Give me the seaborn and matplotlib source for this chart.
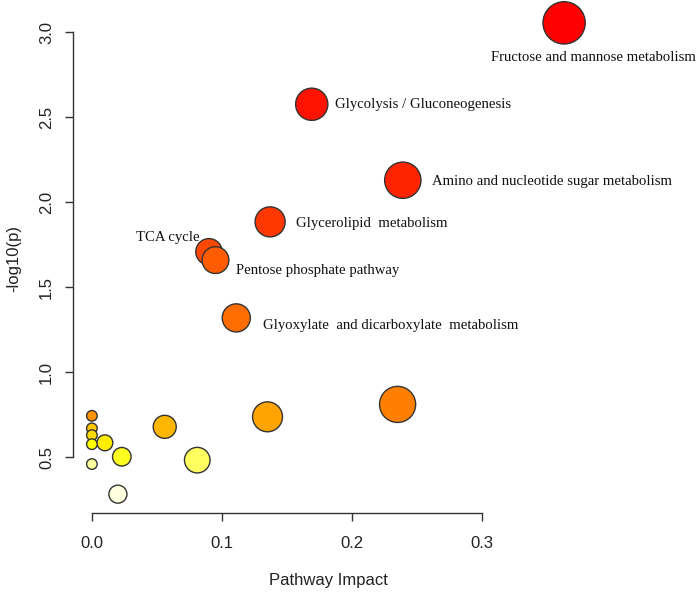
import colorsys
import numpy as np
import pandas as pd
import matplotlib
matplotlib.use("Agg")
import matplotlib.pyplot as plt
import seaborn as sns

# values (ordered by -log10(p), largest first)
impact = [0.363, 0.169, 0.239, 0.137, 0.090, 0.095, 0.111, 0.235, 0.0, 0.135,
          0.056, 0.0, 0.0, 0.010, 0.0, 0.023, 0.081, 0.0, 0.020]
neg_log_p = [3.055, 2.576, 2.129, 1.884, 1.708, 1.659, 1.319, 0.810, 0.743, 0.737,
             0.678, 0.669, 0.629, 0.584, 0.576, 0.502, 0.482, 0.459, 0.282]
labels = ["Fructose and mannose metabolism", "Glycolysis / Gluconeogenesis",
          "Amino and nucleotide sugar metabolism", "Glycerolipid  metabolism",
          "TCA cycle", "Pentose phosphate pathway",
          "Glyoxylate  and dicarboxylate  metabolism"] + [""] * 12

df = pd.DataFrame({"impact": impact, "neg_log_p": neg_log_p, "label": labels})


def heat_colors(n):
    # same scheme as R's heat.colors()
    j = n // 4
    i = n - j
    cols = [colorsys.hsv_to_rgb(h, 1, 1) for h in np.linspace(0, 1 / 6, i)]
    if j > 0:
        cols += [colorsys.hsv_to_rgb(1 / 6, s, 1)
                 for s in np.linspace(1 - 1 / (2 * j), 1 / (2 * j), j)]
    return cols


colors = heat_colors(len(df))
palette = {v: c for v, c in zip(df["neg_log_p"], colors)}
# circle radius (px) grows with sqrt(impact)
sizes = {v: (2 * (5.3 + 26.3 * np.sqrt(v)) * 0.72) ** 2 for v in df["impact"]}

sns.set_style("white")
plt.rcParams["font.family"] = ["Liberation Sans", "DejaVu Sans"]

fig = plt.figure(figsize=(6.99, 5.93), dpi=100)
ax = fig.add_axes([73 / 699, 80 / 593, 510 / 699, 509 / 593])

sns.scatterplot(data=df, x="impact", y="neg_log_p", hue="neg_log_p", palette=palette,
                size="impact", sizes=sizes, edgecolor="#333333", linewidth=1.0,
                legend=False, ax=ax, clip_on=False, zorder=3)

# label offsets in points relative to each circle
offsets = {
    "Fructose and mannose metabolism": (21, -25, "center"),
    "Glycolysis / Gluconeogenesis": (17, 0, "left"),
    "Amino and nucleotide sugar metabolism": (21, -1, "left"),
    "Glycerolipid  metabolism": (19, -1.5, "left"),
    "TCA cycle": (-7, 10.5, "right"),
    "Pentose phosphate pathway": (14.5, -7.7, "left"),
    "Glyoxylate  and dicarboxylate  metabolism": (19.5, -5.3, "left"),
}
for _, row in df[df["label"] != ""].iterrows():
    dx, dy, ha = offsets[row["label"]]
    ax.annotate(row["label"], (row["impact"], row["neg_log_p"]), xytext=(dx, dy),
                textcoords="offset points", ha=ha, va="center",
                family="Liberation Serif", fontsize=10.6, color="#111111",
                annotation_clip=False)

# R-style limits: data range plus 4 %
xr = max(impact) - min(impact)
yr = max(neg_log_p) - min(neg_log_p)
ax.set_xlim(min(impact) - 0.04 * xr, max(impact) + 0.04 * xr)
ax.set_ylim(min(neg_log_p) - 0.04 * yr, max(neg_log_p) + 0.04 * yr)

ax.set_xticks([0.0, 0.1, 0.2, 0.3])
ax.set_yticks([0.5, 1.0, 1.5, 2.0, 2.5, 3.0])
ax.set_xticklabels(["0.0", "0.1", "0.2", "0.3"])
ax.set_yticklabels(["0.5", "1.0", "1.5", "2.0", "2.5", "3.0"], rotation=90, va="center")

for side in ["top", "right"]:
    ax.spines[side].set_visible(False)
ax.spines["left"].set_bounds(0.5, 3.0)
ax.spines["bottom"].set_bounds(0.0, 0.3)
for side in ["left", "bottom"]:
    ax.spines[side].set_color("#333333")
    ax.spines[side].set_linewidth(1.0)

ax.tick_params(axis="both", direction="out", length=5.5, width=1.0, color="#333333",
               labelsize=12, labelcolor="#222222", left=True, bottom=True)
ax.tick_params(axis="x", pad=11)
ax.tick_params(axis="y", pad=8)

ax.set_xlabel("Pathway Impact", fontsize=12, color="#222222", labelpad=16)
ax.set_ylabel("-log10(p)", fontsize=12, color="#222222", labelpad=13)

fig.savefig("out.png", dpi=100)
